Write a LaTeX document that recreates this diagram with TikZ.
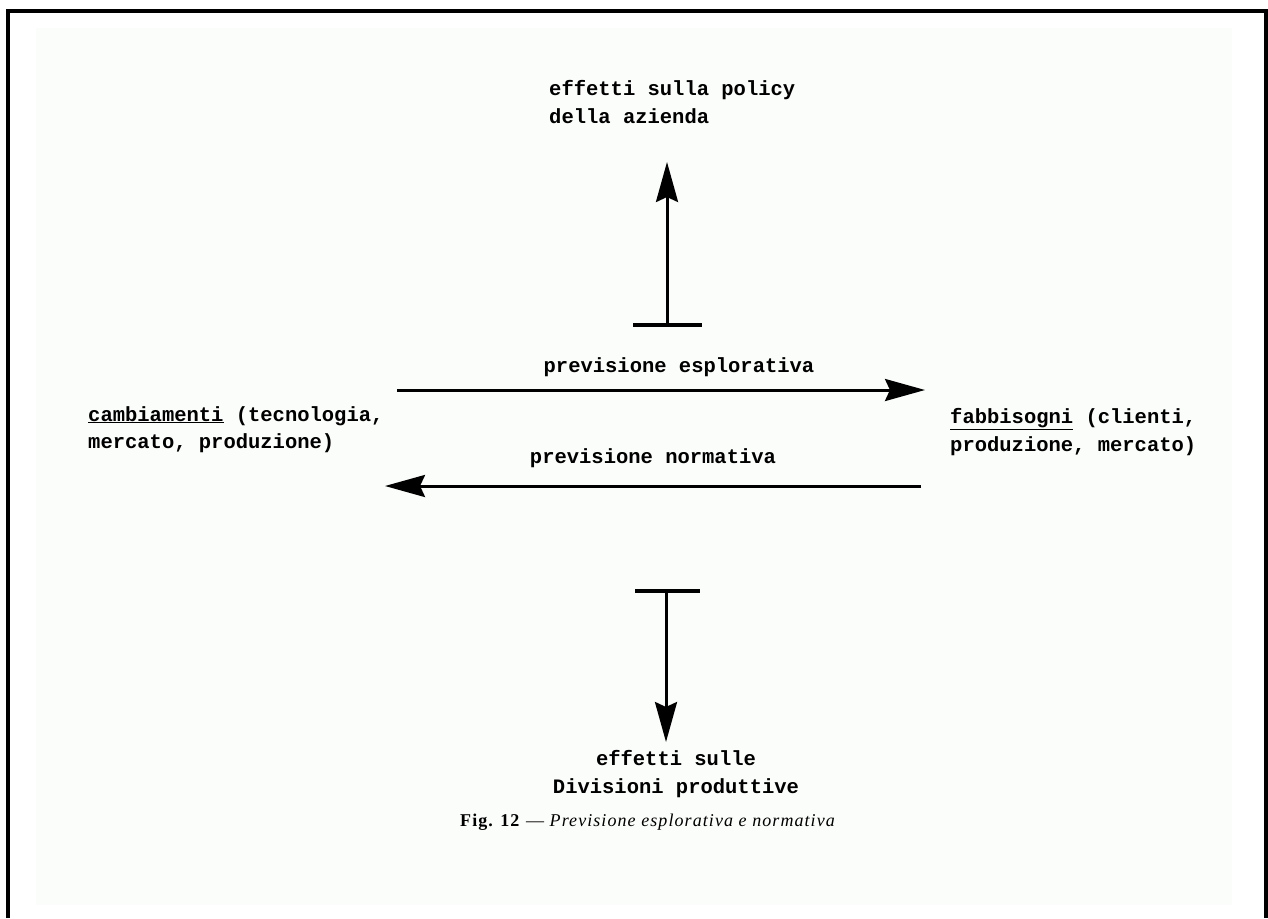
\documentclass[tikz,border=0pt]{standalone}
\usepackage{fontspec}
\setmainfont{Liberation Serif}
\newfontfamily\typewriter{Liberation Mono}[BoldFont={Liberation Mono Bold}]
\newfontfamily\captionface{Liberation Serif}[LetterSpace=6]
\usetikzlibrary{arrows.meta}

\definecolor{paper}{RGB}{251,253,250}

\tikzset{
  typed/.style={font=\typewriter\bfseries\fontsize{20.5}{27.5}\selectfont,
                inner sep=0pt, align=left},
  conn/.style={line width=3pt,
               -{Stealth[length=40pt,width=22pt,inset=5pt]}},
  stopbar/.style={line width=3.5pt},
  frameline/.style={line width=4pt},
  capt/.style={font=\captionface\fontsize{18}{22}\selectfont, inner sep=0pt},
}

\begin{document}
\begin{tikzpicture}[x=1pt,y=-1pt]
  \useasboundingbox (0,0) rectangle (1268,918);

  % sheet and open frame
  \fill[paper] (36,28) rectangle (1232,905);
  \draw[frameline] (8,918) -- (8,11) -- (1266,11) -- (1266,918);

  % labels (anchored at the baseline of their last line)
  \node[typed, anchor=base west] (policy) at (549,123)
    {effetti sulla policy\\della azienda};
  \node[typed, anchor=base west] (camb) at (88,448.5)
    {\underline{cambiamenti} (tecnologia,\\mercato, produzione)};
  \node[typed, anchor=base west] (fabb) at (950,451)
    {\underline{fabbisogni} (clienti,\\produzione, mercato)};
  \node[typed, align=center, anchor=base] (div) at (676,793)
    {effetti sulle\\Divisioni produttive};

  % horizontal flows
  \coordinate (expS) at (397,390);
  \coordinate (expE) at (925,390);
  \coordinate (norS) at (921,486);
  \coordinate (norE) at (385,486);
  \draw[conn] (expS) -- (expE);
  \draw[conn] (norS) -- (norE);
  \node[typed, anchor=base] (explbl) at (679,372) {previsione esplorativa};
  \node[typed, anchor=base] (norlbl) at (653,463) {previsione normativa};

  % upward effect
  \coordinate (upL) at (633,325);
  \coordinate (upR) at (702,325);
  \coordinate (upM) at (667,325);
  \coordinate (upT) at (667,162);
  \draw[stopbar] (upL) -- (upR);
  \draw[conn] (upM) -- (upT);

  % downward effect
  \coordinate (dnL) at (635,591);
  \coordinate (dnR) at (700,591);
  \coordinate (dnM) at (666,591);
  \coordinate (dnT) at (666,742);
  \draw[stopbar] (dnL) -- (dnR);
  \draw[conn] (dnM) -- (dnT);

  % caption
  \node[capt, anchor=base west] (cap) at (460,826)
    {\textbf{Fig. 12} — \textit{Previsione esplorativa e normativa}};
\end{tikzpicture}
\end{document}
